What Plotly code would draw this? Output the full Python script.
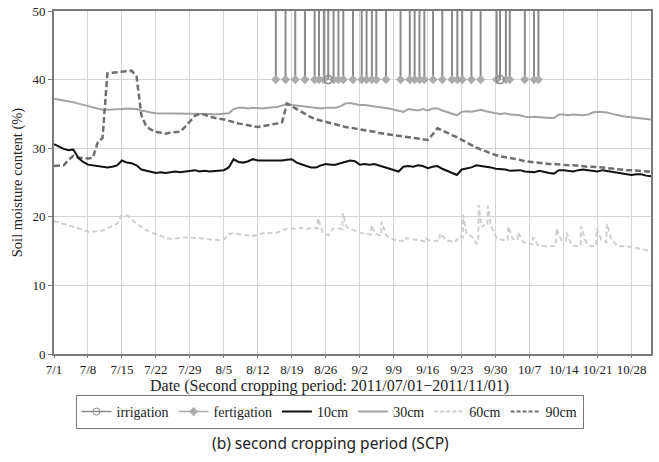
import pandas as pd
import plotly.graph_objects as go

start = pd.Timestamp("2011-07-01")
n_days = 124
dates = pd.date_range(start, periods=n_days, freq="D")

tick_labels = ["7/1", "7/8", "7/15", "7/22", "7/29", "8/5", "8/12", "8/19", "8/26",
               "9/2", "9/9", "9/16", "9/23", "9/30", "10/7", "10/14", "10/21", "10/28"]
tick_dates = pd.date_range(start, periods=len(tick_labels), freq="7D")

soil_10 = [30.6, 30.2, 29.9, 29.7, 29.8, 28.6, 28.0, 27.6, 27.5, 27.4,
           27.3, 27.2, 27.3, 27.5, 28.2, 27.9, 27.8, 27.5, 26.9, 26.7,
           26.5, 26.4, 26.5, 26.4, 26.5, 26.6, 26.5, 26.6, 26.7, 26.8,
           26.6, 26.7, 26.6, 26.7, 26.7, 26.8, 27.2, 28.4, 28.0, 27.9,
           28.1, 28.4, 28.2, 28.2, 28.1, 28.2, 28.1, 28.2, 28.3, 28.4,
           27.9, 27.6, 27.4, 27.2, 27.2, 27.5, 27.7, 27.6, 27.6, 27.8,
           28.0, 28.2, 28.1, 27.6, 27.7, 27.6, 27.7, 27.5, 27.2, 27.0,
           26.8, 26.6, 27.3, 27.4, 27.3, 27.5, 27.4, 27.1, 27.3, 27.4,
           27.0, 26.7, 26.4, 26.1, 26.9, 27.0, 27.2, 27.5, 27.4, 27.4,
           27.2, 27.0, 27.0, 26.9, 26.7, 26.8, 26.8, 26.6, 26.6, 26.5,
           26.7, 26.5, 26.4, 26.3, 26.8, 26.8, 26.7, 26.6, 26.8, 26.9,
           26.8, 26.7, 26.6, 26.8, 26.7, 26.5, 26.4, 26.3, 26.2, 26.1,
           26.2, 26.2, 26.0, 25.9]

soil_30 = [37.2, 37.1, 37.0, 36.9, 36.7, 36.5, 36.3, 36.1, 35.9, 35.7,
           35.6, 35.6, 35.6, 35.7, 35.7, 35.8, 35.8, 35.7, 35.5, 35.3,
           35.2, 35.1, 35.1, 35.0, 35.1, 35.0, 35.0, 35.1, 35.1, 35.1,
           35.0, 35.0, 35.0, 34.9, 35.0, 35.0, 35.1, 35.7, 35.9, 35.9,
           35.8, 35.9, 35.8, 35.8, 35.9, 35.9, 36.0, 36.2, 36.5, 36.3,
           36.2, 36.1, 36.0, 35.9, 35.9, 35.8, 35.9, 35.9, 35.9, 36.1,
           36.5, 36.6, 36.4, 36.3, 36.3, 36.2, 36.1, 36.1, 36.0, 35.8,
           35.6, 35.4, 35.3, 35.7, 35.6, 35.5, 35.7, 35.5, 35.8, 35.8,
           35.5, 35.3, 35.0, 34.8, 35.3, 35.4, 35.3, 35.5, 35.6, 35.4,
           35.2, 35.1, 35.0, 35.1, 34.9, 34.9, 34.8, 34.6, 34.5, 34.6,
           34.5, 34.5, 34.4, 34.4, 34.9, 34.9, 34.8, 34.9, 34.8, 34.8,
           34.9, 35.2, 35.3, 35.3, 35.2, 35.0, 34.8, 34.7, 34.6, 34.5,
           34.5, 34.4, 34.3, 34.2]

soil_90 = [27.4, 27.4, 27.5, 28.3, 28.9, 28.6, 28.5, 28.5, 28.6, 30.8,
           31.5, 40.9, 41.0, 41.1, 41.2, 41.3, 41.3, 40.5, 34.8, 33.2,
           32.7, 32.4, 32.2, 32.1, 32.3, 32.4, 32.4, 33.1, 33.9, 34.7,
           35.0, 34.9, 34.6, 34.4, 34.3, 34.2, 34.0, 33.7, 33.6, 33.5,
           33.3, 33.2, 33.1, 33.2, 33.3, 33.5, 33.6, 33.8, 36.5, 36.1,
           35.7, 35.3, 34.8, 34.5, 34.2, 34.0, 33.8, 33.6, 33.4, 33.2,
           33.1, 33.0, 32.9, 32.8, 32.7, 32.5, 32.4, 32.2, 32.1, 32.0,
           31.9, 31.8, 31.7, 31.6, 31.5, 31.4, 31.3, 31.2, 32.0, 32.9,
           32.6, 32.2, 31.9, 31.6, 31.2, 30.8, 30.4, 30.1, 29.8, 29.5,
           29.2, 29.0, 28.8, 28.7, 28.5, 28.4, 28.3, 28.1, 28.0, 27.9,
           27.9, 27.8, 27.7, 27.7, 27.6, 27.6, 27.5, 27.5, 27.4, 27.4,
           27.3, 27.3, 27.3, 27.2, 27.1, 27.0, 27.0, 26.9, 26.8, 26.8,
           26.7, 26.7, 26.6, 26.6]

days_60 = [0, 1, 2, 3, 4, 5, 6, 7, 8, 9, 10, 11, 12, 13, 13.8, 14.5, 15.3, 16, 17, 18,
           19, 20, 21, 22, 23, 24, 25, 26, 27, 28, 29, 30, 31, 32, 33, 34, 35, 36, 37, 38,
           39, 40, 41, 42, 43, 44, 45, 46, 47, 48, 49, 50, 51, 52, 53, 54.3, 54.4, 55.4,
           56.5, 57.5, 58.9, 59.4, 59.5, 60.3, 61.6, 63, 64.4, 65.3, 65.4, 66.2, 67.4, 67.5,
           68.5, 69.9, 71.2, 72.5, 72.6, 74, 75.4, 76.6, 76.7, 77.5, 79.4, 79.5, 80.8, 82.6,
           83.6, 84.2, 84.3, 85, 86, 87, 87.4, 87.5, 88.1, 88.8, 89.3, 89.4, 90, 91.2, 92.5,
           93.5, 93.6, 94.5, 95.5, 95.6, 96.7, 97.5, 98.6, 98.7, 99.7, 101.1, 102.3, 103.4,
           103.5, 104.5, 105.5, 105.6, 106.6, 107.6, 108.5, 108.6, 109.6, 110.6, 111.7,
           111.8, 112.8, 113.8, 113.9, 114.9, 116.2, 118, 119.7, 121, 122.4, 123]
soil_60 = [19.4, 19.2, 19.0, 18.8, 18.6, 18.4, 18.1, 17.8, 17.8, 17.9, 18.0, 18.3, 18.7, 19.0,
           20.1, 20.3, 20.1, 19.6, 19.0, 18.5,
           18.1, 17.7, 17.5, 17.2, 16.9, 16.8, 16.8, 16.9, 17.0, 17.0, 16.9, 16.9, 16.8, 16.7,
           16.7, 16.6, 16.7, 17.5, 17.6, 17.4,
           17.3, 17.3, 17.2, 17.4, 17.6, 17.6, 17.7, 17.7, 18.0, 18.3, 18.3, 18.2, 18.4, 18.2,
           18.4, 18.3, 19.8, 17.7,
           17.3, 18.3, 18.3, 18.2, 20.5, 18.5, 18.1, 17.7, 17.5, 17.4, 18.8, 17.5, 17.3, 19.3,
           17.2, 16.7, 16.5, 16.5, 16.9, 16.7, 16.5, 16.4, 16.8, 16.5, 16.5, 17.6, 16.6, 16.3,
           17.2, 17.0, 20.3, 17.5, 17.2, 16.1, 16.3, 21.7, 18.5, 18.9, 18.8, 21.6, 18.7, 16.9,
           16.6,
           16.6, 18.6, 16.8, 16.6, 17.7, 16.3, 16.1, 16.0, 17.0, 15.9, 15.7, 15.7, 15.8,
           18.3, 16.6, 16.5, 17.7, 15.9, 15.7, 15.8, 18.6, 16.3, 15.7, 15.8,
           18.3, 16.6, 16.3, 19.0, 16.6, 15.7, 15.7, 15.5, 15.3, 15.1, 15.0]

fert_days = [45.7, 47.7, 49.7, 51.7, 53.7, 54.6, 55.6, 57.6, 58.6, 59.6, 61.6, 63.4,
             64.4, 65.5, 66.4, 68.4, 71.4, 73.3, 74.3, 75.3, 76.3, 78.1, 80.0, 82.0,
             83.1, 84.1, 86.0, 87.9, 91.2, 93.1, 93.9, 97.0, 98.9, 99.8]
irr_days = [56.5, 91.9]
event_level = 40
event_top = 50


def to_dates(days):
    return [start + pd.to_timedelta(d, unit="D") for d in days]


serif = "Liberation Serif, Times New Roman, serif"
fig = go.Figure()

fig.add_trace(go.Scatter(x=to_dates(days_60), y=soil_60, mode="lines", name="60cm",
                         showlegend=False,
                         line=dict(color="#cfcfcf", width=2, dash="5px,3px")))
fig.add_trace(go.Scatter(x=dates, y=soil_30, mode="lines", name="30cm", showlegend=False,
                         line=dict(color="#a3a3a3", width=2)))
fig.add_trace(go.Scatter(x=dates, y=soil_90, mode="lines", name="90cm", showlegend=False,
                         line=dict(color="#6e6e6e", width=2.5, dash="6px,3px")))
fig.add_trace(go.Scatter(x=dates, y=soil_10, mode="lines", name="10cm", showlegend=False,
                         line=dict(color="#111111", width=2)))

err = dict(type="constant", value=event_top - event_level, valueminus=0, symmetric=False,
           color="#8a8a8a", thickness=2, width=0)
fig.add_trace(go.Scatter(x=to_dates(fert_days), y=[event_level] * len(fert_days),
                         mode="markers", name="fertigation", showlegend=False, cliponaxis=False,
                         marker=dict(symbol="diamond", size=7, color="#ababab"),
                         error_y=err))
fig.add_trace(go.Scatter(x=to_dates(irr_days), y=[event_level] * len(irr_days),
                         mode="markers", name="irrigation", showlegend=False, cliponaxis=False,
                         marker=dict(symbol="circle-open", size=8, color="#8a8a8a",
                                     line=dict(width=1.5)),
                         error_y=err))

# legend entries
legend_items = [
    ("irrigation", dict(color="#8a8a8a", width=1.5), dict(symbol="circle-open", size=7, color="#8a8a8a")),
    ("fertigation", dict(color="#ababab", width=1.5), dict(symbol="diamond", size=7, color="#ababab")),
    ("10cm", dict(color="#111111", width=2), None),
    ("30cm", dict(color="#a3a3a3", width=2), None),
    ("60cm", dict(color="#cfcfcf", width=2, dash="4px,2px"), None),
    ("90cm", dict(color="#6e6e6e", width=2, dash="4px,2px"), None),
]
for name, ln, mk in legend_items:
    fig.add_trace(go.Scatter(x=[None], y=[None], name=name,
                             mode="lines+markers" if mk else "lines",
                             line=ln, marker=mk if mk else None))

plot_left, plot_width, plot_bottom, plot_height = 54, 597, 354, 343


def px_x(x):
    return (x - plot_left) / plot_width


def px_y(y):
    return (plot_bottom - y) / plot_height


fig.update_layout(
    width=659, height=462,
    margin=dict(l=54, r=8, t=11, b=108, autoexpand=False),
    plot_bgcolor="white", paper_bgcolor="white",
    font=dict(family=serif, size=13, color="#222222"),
    showlegend=True,
    legend=dict(orientation="h", xref="container", yref="container", x=0.5, xanchor="center",
                y=1 - 395 / 462, yanchor="top", bordercolor="#7a7a7a", borderwidth=1,
                font=dict(family=serif, size=14), itemwidth=30, tracegroupgap=0,
                traceorder="normal"),
    xaxis=dict(type="date", range=[start, start + pd.Timedelta(days=123)],
               tickvals=tick_dates, ticktext=tick_labels, showgrid=True, gridcolor="#d4d4d4",
               gridwidth=1, showline=True, linecolor="#7a7a7a", linewidth=2, mirror=True,
               ticks="outside", ticklen=2, tickcolor="#7a7a7a", tickfont=dict(size=13)),
    yaxis=dict(range=[0, 50], dtick=10, showgrid=True, gridcolor="#d4d4d4", gridwidth=1,
               showline=True, linecolor="#7a7a7a", linewidth=2, mirror=True, zeroline=False,
               ticks="outside", ticklen=4, tickcolor="#7a7a7a", tickfont=dict(size=13),
               title=dict(text="Soil moisture content (%)", font=dict(size=14.5), standoff=6)),
    annotations=[
        dict(text="Date (Second cropping period: 2011/07/01−2011/11/01)", xref="paper",
             yref="paper", x=px_x(329), y=px_y(386), xanchor="center", yanchor="middle",
             showarrow=False, font=dict(family=serif, size=16, color="#222222")),
        dict(text="(b) second cropping period (SCP)", xref="paper", yref="paper",
             x=px_x(330), y=px_y(443), xanchor="center", yanchor="middle", showarrow=False,
             font=dict(family="Noto Sans, sans-serif", size=15.5, color="#222222")),
    ],
)

fig.write_html("out.html", config={"displayModeBar": False},
               post_script="document.body.style.margin='0';")
